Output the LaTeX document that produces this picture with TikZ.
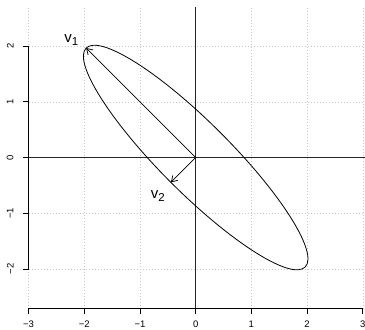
\documentclass[tikz,border=0pt]{standalone}
\usepackage{fontspec}
\setsansfont{Liberation Sans}
\usepackage{tikz}
\usetikzlibrary{arrows.meta}
\newcommand{\pcvec}[1]{v\raisebox{-2.6pt}{\fontsize{11.5}{12}\selectfont #1}}
\tikzset{
  pc plot/.style={font=\sffamily, x=55.7pt, y=55.7pt,
    line cap=butt, line join=round},
  pc grid/.style={draw=black!22, line width=0.5pt, dash pattern=on 0.8pt off 2.2pt},
  pc zero/.style={draw=black!85, line width=0.75pt},
  pc spine/.style={draw=black, line width=0.7pt},
  pc tick/.style={font=\sffamily\fontsize{9.5}{10}\selectfont, inner sep=0pt},
  pc curve/.style={draw=black, line width=0.8pt},
  pc arrow/.style={-{Straight Barb[length=5.5pt, width=7pt, line width=0.75pt]},
    draw=black, line width=0.75pt},
  pc label/.style={font=\sffamily\fontsize{15}{16}\selectfont, inner sep=0pt,
    anchor=base west}
}
\begin{document}
\begin{tikzpicture}[pc plot]
\useasboundingbox (-3.513,-3.079) rectangle (3.040,2.828);
% grid
\foreach \x in {-3,...,3} \draw[pc grid] (\x,-2.71) -- (\x,2.70);
\foreach \y in {-2,...,2} \draw[pc grid] (-3,\y) -- (3.04,\y);
% lines through the origin
\coordinate (O) at (0,0);
\draw[pc zero] (0,-2.71) -- (0,2.70);
\draw[pc zero] (-3,0) -- (3.04,0);
% axes
\draw[pc spine] (-3,-2.71) -- (3,-2.71);
\foreach \x/\t in {-3/−3,-2/−2,-1/−1,0/0,1/1,2/2,3/3} {
  \draw[pc spine] (\x,-2.71) -- (\x,-2.818);
  \node[pc tick] (xt\x) at (\x,-2.99) {\t};
}
\draw[pc spine] (-3,-2) -- (-3,2);
\foreach \y/\t in {-2/−2,-1/−1,0/0,1/1,2/2} {
  \draw[pc spine] (-3,\y) -- (-3.108,\y);
  \node[pc tick, rotate=90] (yt\y) at (-3.33,\y) {\t};
}
% ellipse and eigenvectors
\draw[pc curve, rotate around={-45:(O)}] (O) ellipse (2.78 and 0.63);
\coordinate (v1) at (-1.966,1.966);
\coordinate (v2) at (-0.445,-0.445);
\draw[pc arrow] (O) -- (v1);
\draw[pc arrow] (O) -- (v2);
\node[pc label] (v1 label) at (-2.36,2.06) {\pcvec{1}};
\node[pc label] (v2 label) at (-0.81,-0.735) {\pcvec{2}};
\end{tikzpicture}
\end{document}
